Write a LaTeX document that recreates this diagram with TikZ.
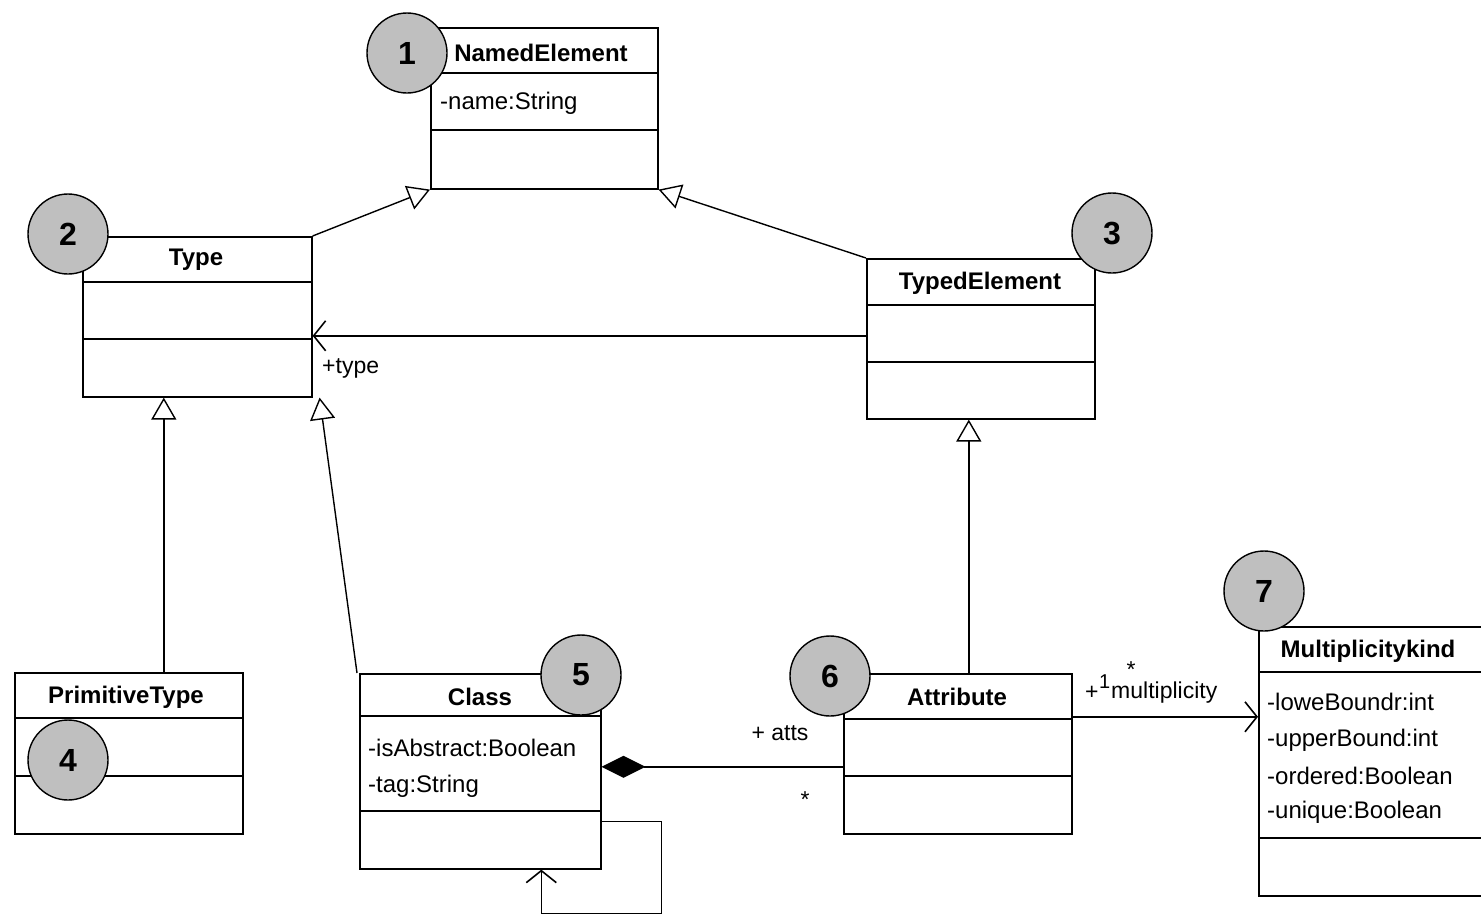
\documentclass[tikz,border=0pt]{standalone}
\usepackage{fontspec}
\setmainfont{Liberation Sans}
\usetikzlibrary{arrows.meta,calc}

% one UML class box: name, x, y (top left), width, height, header height, attribute block height
\newcommand{\umlbox}[7]{%
  \node[clsbox, minimum width=#4pt, minimum height=#5pt] (#1) at (#2,#3) {};
  \draw[sepline] ([yshift=-#6pt]#1.north west) -- ([yshift=-#6pt]#1.north east);
  \draw[sepline] ([yshift=-#7pt]#1.north west) -- ([yshift=-#7pt]#1.north east);
}

\tikzset{
  clsbox/.style={draw, line width=1.6pt, anchor=north west, inner sep=0pt},
  sepline/.style={line width=1.6pt},
  hdr/.style={font=\bfseries\fontsize{24}{26}\selectfont, inner sep=0pt},
  att/.style={font=\fontsize{24}{26}\selectfont, anchor=west, inner sep=0pt},
  lbl/.style={font=\fontsize{23}{26}\selectfont, inner sep=0pt},
  badge/.style={circle, draw, line width=1.4pt, fill=black!25, minimum size=80pt,
    inner sep=0pt, font=\bfseries\fontsize{32}{32}\selectfont},
  gen/.style={-{Triangle[open,length=22pt,width=25pt,line width=1.4pt]}, line width=1.4pt},
  nav/.style={-{Straight Barb[length=12pt,width=30pt,line width=1.6pt]}, line width=1.6pt},
  comp/.style={{Diamond[length=44pt,width=22pt]}-, line width=1.6pt},
}

\begin{document}
\begin{tikzpicture}[x=1pt,y=-1pt]
\useasboundingbox (0,0) rectangle (1481,914);

% class boxes
\umlbox{named}{430}{27}{227}{161}{46}{103}
\umlbox{type}{82}{236}{229}{160}{46}{103}
\umlbox{typed}{866}{258}{228}{160}{47}{104}
\umlbox{prim}{14}{672}{228}{161}{46}{104}
\umlbox{class}{359}{673}{241}{195}{43}{138}
\umlbox{attr}{843}{673}{228}{160}{46}{103}
\umlbox{mult}{1258}{626}{240}{269}{46}{212}

% class names
\node[hdr] (namedT) at (541,53) {NamedElement};
\node[hdr] (typeT) at (196,260) {Type};
\node[hdr] (typedT) at (980,283) {TypedElement};
\node[hdr] (primT) at (126,697) {PrimitiveType};
\node[hdr] (classT) at (480,697) {Class};
\node[hdr] (attrT) at (957,697) {Attribute};
\node[hdr] (multT) at (1368,651) {Multiplicitykind};

% attributes
\node[att] (a1) at (440,103) {-name:String};
\node[att] (a2) at (368,748) {-isAbstract:Boolean};
\node[att] (a3) at (368,786) {-tag:String};
\node[att] (a4) at (1267,702) {-loweBoundr:int};
\node[att] (a5) at (1267,740) {-upperBound:int};
\node[att] (a6) at (1267,776) {-ordered:Boolean};
\node[att] (a7) at (1267,812) {-unique:Boolean};

% generalizations
\draw[gen] (type.north east) -- (named.south west);
\draw[gen] (typed.north west) -- (named.south east);
\draw[gen] ([xshift=35pt]prim.north) -- ([xshift=35pt]prim.north |- type.south);
\draw[gen] ([xshift=-2pt]class.north west) -- ([xshift=7pt]type.south east);
\draw[gen] ([xshift=11pt]attr.north) -- ([xshift=11pt]attr.north |- typed.south);

% associations
\draw[nav] ([yshift=3pt]typed.west) -- ([yshift=3pt]typed.west -| type.east);
\draw[comp] ([yshift=-13pt]attr.west -| class.east) -- ([yshift=-13pt]attr.west);
\draw[nav] ([yshift=37pt]attr.east) -- ([yshift=37pt]attr.east -| mult.west);
\draw[nav] ([yshift=48pt]class.south east) -- ++(60,0) -- ++(0,92)
  -- ([xshift=61pt,yshift=-44pt]class.south) -- ([xshift=61pt]class.south);

% role labels
\node[lbl, anchor=west] (ltype) at (322,368) {+type};
\node[lbl] (latts) at (780,733) {+ atts};
\node[lbl] (lstar) at (805,800) {*};
\node[lbl, anchor=west] (lplus) at (1085,693) {+};
\node[lbl, anchor=south west] (lone) at (1099,689) {\fontsize{20}{20}\selectfont 1};
\node[lbl, anchor=west] (lmult) at (1111,693) {multiplicity};
\node[lbl, anchor=south] (lmstar) at (1131,678) {*};

% numbered badges
\node[badge] (b1) at (407,53) {1};
\node[badge] (b2) at (68,234) {2};
\node[badge] (b3) at (1112,233) {3};
\node[badge] (b4) at (68,760) {4};
\node[badge] (b5) at (581,675) {5};
\node[badge] (b6) at (830,676) {6};
\node[badge] (b7) at (1264,591) {7};
\end{tikzpicture}
\end{document}
